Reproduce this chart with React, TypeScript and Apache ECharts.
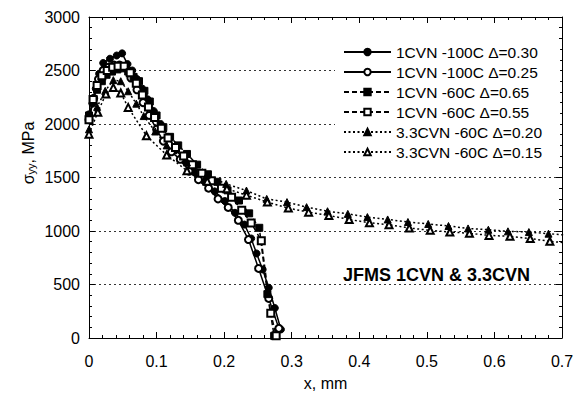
import React, { useEffect, useRef } from "react";
import * as echarts from "echarts";

const FONT = '"Liberation Sans", Arial, Helvetica, sans-serif';

const seriesNames = [
  "1CVN -100C Δ=0.30",
  "1CVN -100C Δ=0.25",
  "1CVN -60C Δ=0.65",
  "1CVN -60C Δ=0.55",
  "3.3CVN -60C Δ=0.20",
  "3.3CVN -60C Δ=0.15",
];

const xA = [0, 0.005, 0.01, 0.015, 0.021, 0.031, 0.041, 0.049, 0.057, 0.064, 0.071, 0.079, 0.087, 0.096, 0.106, 0.117, 0.129, 0.142, 0.156, 0.171, 0.186, 0.201, 0.216, 0.23, 0.24, 0.248, 0.257, 0.266, 0.275, 0.284];
const yA = [2090, 2190, 2330, 2470, 2570, 2610, 2640, 2660, 2560, 2500, 2420, 2330, 2230, 2120, 2000, 1880, 1760, 1650, 1550, 1460, 1370, 1280, 1170, 1060, 930, 790, 640, 470, 280, 80];

const xB = [0, 0.007, 0.014, 0.021, 0.029, 0.037, 0.045, 0.053, 0.062, 0.071, 0.08, 0.089, 0.1, 0.11, 0.122, 0.135, 0.148, 0.162, 0.177, 0.191, 0.206, 0.221, 0.236, 0.251, 0.266, 0.281];
const yB = [2040, 2240, 2420, 2500, 2530, 2550, 2550, 2530, 2430, 2320, 2200, 2080, 1950, 1840, 1740, 1670, 1560, 1480, 1400, 1300, 1220, 1100, 920, 650, 370, 90];

const xC = [0, 0.006, 0.012, 0.019, 0.026, 0.034, 0.042, 0.05, 0.058, 0.066, 0.074, 0.082, 0.09, 0.1, 0.11, 0.12, 0.132, 0.145, 0.16, 0.176, 0.19, 0.205, 0.222, 0.237, 0.252, 0.264, 0.274];
const yC = [2080, 2210, 2320, 2400, 2460, 2490, 2510, 2520, 2490, 2440, 2400, 2310, 2210, 2080, 1970, 1880, 1800, 1720, 1620, 1530, 1460, 1380, 1285, 1165, 1030, 410, 20];

const xD = [0, 0.006, 0.012, 0.019, 0.027, 0.035, 0.043, 0.052, 0.061, 0.07, 0.079, 0.088, 0.097, 0.107, 0.117, 0.128, 0.14, 0.153, 0.167, 0.181, 0.196, 0.211, 0.226, 0.24, 0.255, 0.269, 0.277];
const yD = [2040, 2230, 2360, 2450, 2500, 2530, 2540, 2540, 2480, 2380, 2270, 2160, 2060, 1960, 1870, 1780, 1700, 1620, 1540, 1470, 1400, 1315, 1195, 1075, 910, 232, 20];

const xE = [0, 0.012, 0.024, 0.036, 0.047, 0.058, 0.07, 0.081, 0.098, 0.115, 0.145, 0.174, 0.203, 0.233, 0.263, 0.293, 0.322, 0.353, 0.383, 0.412, 0.442, 0.472, 0.502, 0.532, 0.561, 0.591, 0.62, 0.651, 0.68, 0.71];
const yE = [1950, 2160, 2310, 2410, 2400, 2306, 2190, 2074, 1930, 1800, 1640, 1520, 1440, 1378, 1300, 1270, 1223, 1185, 1160, 1130, 1108, 1084, 1066, 1047, 1024, 1012, 997, 990, 975, 960];

const xF = [0, 0.013, 0.025, 0.036, 0.047, 0.058, 0.085, 0.115, 0.145, 0.175, 0.204, 0.233, 0.264, 0.295, 0.325, 0.355, 0.385, 0.415, 0.444, 0.474, 0.505, 0.534, 0.563, 0.592, 0.623, 0.653, 0.682, 0.712];
const yF = [1905, 2110, 2280, 2340, 2290, 2155, 1890, 1710, 1563, 1465, 1395, 1335, 1270, 1214, 1176, 1145, 1108, 1077, 1059, 1028, 1006, 991, 979, 959, 950, 929, 904, 885];

const xTicks = { min: 0, max: 0.7, interval: 0.1 };
const yTicks = { min: 0, max: 3000, interval: 500 };

const pairs = (xs: number[], ys: number[]) => xs.map((x, i) => [x, ys[i]]);

const DASHED = [5, 3];
const DOTTED = [2, 2.5];

function mk(name: string, data: number[][], symbol: string, type: any) {
  return {
    type: "line",
    name,
    data,
    symbol,
    symbolSize: 7,
    showSymbol: true,
    clip: true,
    lineStyle: { color: "#000", width: 1.5, type },
    itemStyle: { color: "#000", borderColor: "#000", borderWidth: 1 },
    emphasis: { disabled: true },
  };
}

function axisCommon(extra: any) {
  return {
    type: "value",
    axisLine: { show: true, onZero: false, lineStyle: { color: "#000", width: 1 } },
    axisTick: { show: true, inside: true, length: 6, lineStyle: { color: "#000" } },
    minorTick: { show: true, splitNumber: 5, length: 3, lineStyle: { color: "#000" } },
    splitLine: { show: false },
    ...extra,
  };
}

export default function App() {
  const ref = useRef<HTMLDivElement>(null);
  useEffect(() => {
    if (!ref.current) return;
    const chart = echarts.init(ref.current, null, { renderer: "svg" });
    const labelStyle = { color: "#000", fontSize: 16, fontFamily: FONT };
    chart.setOption({
      animation: false,
      backgroundColor: "#fff",
      grid: { left: 89, right: 19, top: 17, bottom: 56, containLabel: false },
      xAxis: [
        axisCommon({
          ...xTicks,
          position: "bottom",
          axisLabel: { ...labelStyle, margin: 15, formatter: (v: number) => String(+v.toFixed(1)) },
          name: "x, mm",
          nameLocation: "middle",
          nameGap: 37,
          nameTextStyle: { ...labelStyle },
        }),
        axisCommon({ ...xTicks, position: "top", axisLabel: { show: false } }),
      ],
      yAxis: [
        axisCommon({
          ...yTicks,
          position: "left",
          axisLabel: { ...labelStyle, margin: 9, formatter: (v: number) => String(v) },
          splitLine: { show: true, lineStyle: { color: "#333", width: 1, type: [2, 3] } },
        }),
        axisCommon({ ...yTicks, position: "right", axisLabel: { show: false } }),
      ],
      legend: {
        orient: "vertical",
        left: 335,
        top: 39,
        padding: [5, 18, 5, 8],
        itemGap: 4,
        itemWidth: 47,
        itemHeight: 8,
        backgroundColor: "#fff",
        textStyle: { color: "#000", fontSize: 15.5, fontFamily: FONT, lineHeight: 16 },
        data: seriesNames,
      },
      graphic: [
        {
          type: "text",
          x: 28,
          y: 153,
          rotation: Math.PI / 2,
          style: {
            text: "{s|σ}{sub|yy}{s|, MPa}",
            align: "center",
            verticalAlign: "middle",
            fill: "#000",
            rich: {
              s: { fontSize: 16, fontFamily: FONT, lineHeight: 17, verticalAlign: "middle", fill: "#000" },
              sub: { fontSize: 11, fontFamily: FONT, lineHeight: 11, padding: [10, 0, 0, 0], verticalAlign: "bottom", fill: "#000" },
            },
          },
        },
        {
          type: "text",
          x: 343,
          y: 275,
          style: {
            text: "JFMS 1CVN & 3.3CVN",
            fontSize: 18,
            fontWeight: "bold",
            fontFamily: FONT,
            fill: "#000",
            align: "left",
            verticalAlign: "middle",
          },
        },
      ],
      series: [
        mk(seriesNames[0], pairs(xA, yA), "circle", "solid"),
        mk(seriesNames[1], pairs(xB, yB), "emptyCircle", "solid"),
        mk(seriesNames[2], pairs(xC, yC), "rect", DASHED),
        mk(seriesNames[3], pairs(xD, yD), "emptyRect", DASHED),
        mk(seriesNames[4], pairs(xE, yE), "triangle", DOTTED),
        mk(seriesNames[5], pairs(xF, yF), "emptyTriangle", DOTTED),
      ],
    });
    return () => chart.dispose();
  }, []);
  return <div ref={ref} style={{ position: "absolute", left: 0, top: 0, width: 581, height: 396 }} />;
}
